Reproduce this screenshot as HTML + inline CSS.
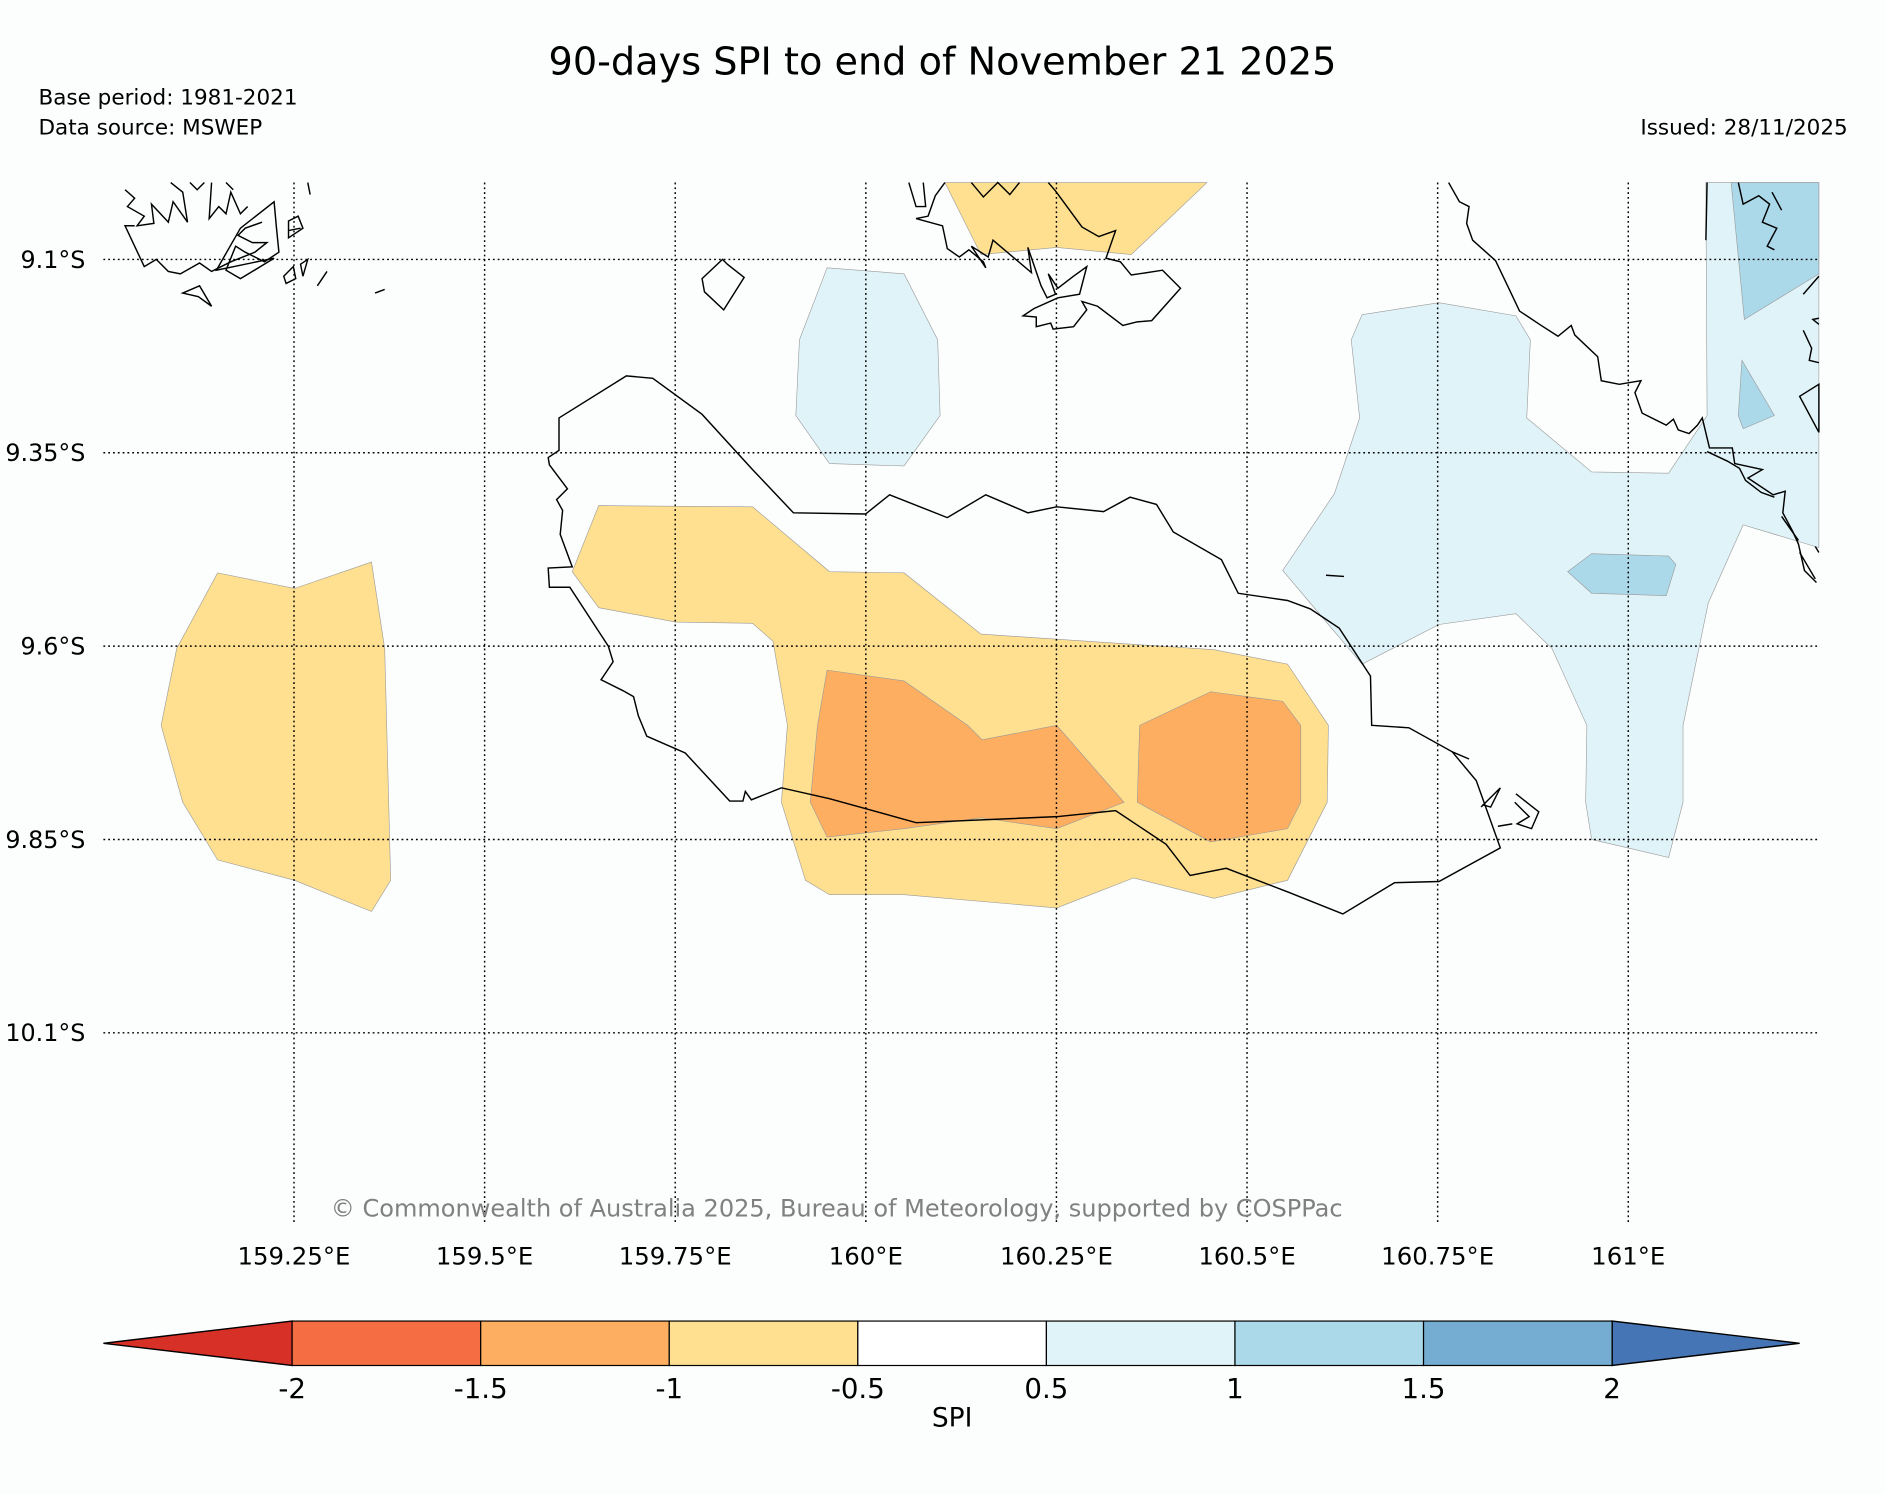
<!DOCTYPE html>
<html><head><meta charset="utf-8"><style>
html,body{margin:0;padding:0;background:#fcfdfd;}
svg{display:block;font-family:"DejaVu Sans","Liberation Sans",sans-serif;}
</style></head><body>
<svg id="chart" width="1885" height="1494" viewBox="0 0 1568 1244" preserveAspectRatio="none" xmlns="http://www.w3.org/2000/svg">
<rect width="1568" height="1244" fill="#fcfdfd"/>
<text x="784" y="62" font-size="31.8" text-anchor="middle">90-days SPI to end of November 21 2025</text>
<text x="32" y="87" font-size="17.9">Base period: 1981-2021</text>
<text x="32" y="112" font-size="17.9">Data source: MSWEP</text>
<text x="1537" y="112" font-size="17.9" text-anchor="end">Issued: 28/11/2025</text>
<g id="fills" stroke="#999" stroke-width="0.5">
<path fill="#fee090" d="M181,477 L245,490 L309,468 L320,540 L325,733 L309,759 L245,733 L181,716 L152,668 L134,604 L147,540 Z"/>
<path fill="#fee090" d="M498,421 L626,422 L690,476 L752,477 L816,528 L1010,541 L1071,553 L1105,604 L1104,668 L1071,733 L1010,748 L943,731 L879,756 L752,745 L690,745 L670,733 L650,668 L655,604 L643,534 L626,519 L562,518 L498,506 L476,476 Z"/>
<path fill="#fee090" d="M786,152 L1004,152 L941,212 L879,206 L816,212 Z"/>
<path fill="#fdae61" d="M688,558 L752,567 L805,604 L817,616 L879,604 L935,668 L879,690 L816,681 L752,690 L688,697 L674,668 L680,604 Z"/>
<path fill="#fdae61" d="M1007,576 L1067,584 L1082,604 L1082,668 L1071,690 L1007,701 L946,668 L948,604 Z"/>
<path fill="#e0f3f8" d="M688,223 L752,228 L780,283 L782,346 L752,388 L690,386 L662,346 L665,283 Z"/>
<path fill="#e0f3f8" d="M1133,262 L1197,252 L1261,263 L1273,283 L1270,348 L1324,393 L1388,394 L1420,346 L1419,152 L1513,152 L1513,456 L1450,437 L1421,502 L1400,604 L1400,668 L1388,714 L1324,699 L1319,668 L1320,604 L1291,540 L1261,511 L1197,520 L1133,553 L1105,520 L1067,475 L1110,411 L1131,348 L1124,283 Z"/>
<path fill="#abd9e9" d="M1440,152 L1513,152 L1513,228 L1451,266 Z"/>
<path fill="#abd9e9" d="M1449,300 L1476,346 L1450,357 L1446,346 Z"/>
<path fill="#abd9e9" d="M1324,461 L1388,463 L1394,470 L1386,496 L1324,494 L1304,476 Z"/>
</g>
<g id="coast" fill="none" stroke="#000" stroke-width="1.2">
<path d="M465,348 L521,313 L543,315 L584,345 L626,391 L660,427 L720,428 L740,412 L788,431 L820,412 L855,427 L879,422 L918,426 L940,414 L962,420 L976,443 L1016,466 L1030,494 L1071,500 L1090,507 L1114,523 L1140,563 L1141,604 L1172,606 L1208,626 L1228,650 L1248,706 L1197,734 L1160,735 L1117,761 L1072,743 L1020,723 L990,729 L970,703 L928,675 L879,680 L762,685 L690,665 L650,656 L625,666 L620,659 L618,667 L607,667 L570,627 L538,613 L531,596 L527,580 L518,575 L500,566 L510,551 L506,538 L474,489 L457,489 L456,473 L476,472 L466,445 L468,425 L463,416 L472,407 L457,387 L456,381 L465,375 Z"/>
<path d="M756,152 L762,172 L770,172 L768,152"/>
<path d="M786,152 L778,163 L772,180 L762,182 L784,188 L788,207 L798,214 L806,208 L818,218 L820,223 L808,205 L822,214 L826,200 L858,227 L855,206 L866,238 L871,248 L878,245 L872,228 L880,240 L893,230 L904,222 L898,245 L880,248 L860,257 L851,263 L862,264 L862,272 L874,269 L876,274 L893,272 L904,258 L900,251 L913,255 L934,271 L946,268 L958,267 L982,240 L967,225 L941,229 L932,218 L920,215 L928,192 L914,197 L900,189 L878,159 L872,152 M808,152 L818,164 L830,152 L840,162 L848,152"/>
<path d="M1205,152 L1214,168 L1222,172 L1220,186 L1225,200 L1244,217 L1255,240 L1264,259 L1282,271 L1296,280 L1307,271 L1310,279 L1329,297 L1332,317 L1347,320 L1365,317 L1360,327 L1366,344 L1386,354 L1392,349 L1396,358 L1405,361 L1412,354 L1416,348 L1422,373 L1441,373 L1443,386 L1466,391 L1454,398 L1475,412 L1485,409 L1483,427 L1491,442 L1496,453 L1501,475 L1511,485"/>
<path d="M1420,376 L1437,384 L1447,390 L1452,400 L1465,410 L1476,414"/>
<path d="M1482,430 L1496,450 M1497,460 L1510,482 M1510,455 L1513,460"/>
<path d="M1420,152 L1419,200"/>
<path d="M1513,230 L1500,245 M1513,265 L1508,266 L1513,270 M1500,275 L1507,290 L1505,300 L1513,302 M1497,330 L1513,320 L1513,360 Z M1446,152 L1450,170 L1463,163 L1472,170 L1466,185 L1478,190 L1470,205 L1476,208 M1474,160 L1482,175"/>
<path d="M1208,626 L1222,632 M1232,672 L1248,656 L1240,672 L1233,670 M1246,688 L1258,686 M1261,661 L1280,676 L1274,690 L1262,686 L1272,680 L1260,668"/>
<path d="M1103,479 L1118,480"/>
<path d="M584,232 L601,216 L605,220 L619,231 L602,258 L586,243 Z"/>
<path d="M104,158 L112,165 L106,172 L120,180 L114,188 L128,186 L126,170 L140,185 L144,168 L156,185 L152,160 L142,152 M158,152 L164,158 L170,152 M176,152 L174,182 L182,172 L188,178 L192,160 L200,178 L206,172 M218,185 L204,190 L198,196 L210,202 L222,202 L212,210 L192,218 L176,226 L166,219 L150,228 L140,226 L130,216 L120,222 L104,188 L112,188"/>
<path d="M180,225 L200,190 L228,168 L230,190 L232,210 L220,218 L204,210 L196,205 L188,225 L200,232 L210,226 L228,215 Z"/>
<path d="M152,244 L166,238 L176,255 L165,247 Z M240,184 L248,180 L252,190 L240,198 Z M236,230 L244,222 L246,232 L238,236 Z M250,220 L256,216 L252,230 Z M264,238 L272,226 M312,244 L320,241 M256,152 L258,162 M188,152 L194,158 M240,192 L250,190"/>
</g>
<g id="grid"></g>
<g id="axes"></g>
<text x="696" y="1013" font-size="20" fill="#808080" text-anchor="middle">© Commonwealth of Australia 2025, Bureau of Meteorology, supported by COSPPac</text>
<g id="cbar"></g>
<text x="792" y="1188" font-size="22" text-anchor="middle">SPI</text>
</svg>
<script>
const lonTicks=[159.25,159.5,159.75,160,160.25,160.5,160.75,161];
const lonLabels=["159.25°E","159.5°E","159.75°E","160°E","160.25°E","160.5°E","160.75°E","161°E"];
const latTicks=[9.1,9.35,9.6,9.85,10.1];
const latLabels=["9.1°S","9.35°S","9.6°S","9.85°S","10.1°S"];
const cbLevels=[-2,-1.5,-1,-0.5,0.5,1,1.5,2];
const cbLabels=["-2","-1.5","-1","-0.5","0.5","1","1.5","2"];
const cbColors=["#f46d43","#fdae61","#fee090","#ffffff","#e0f3f8","#abd9e9","#74add1"];
const NS="http://www.w3.org/2000/svg";
const xMin=86,xMax=1513,yTop=152,yBot=1020;
function xLon(l){return 86+(l-159.0)/2.25*1427;}
function yLat(l){return 216+(l-9.1)/0.25*161;}
function mk(t,a,p){const e=document.createElementNS(NS,t);for(const k in a)e.setAttribute(k,a[k]);p.appendChild(e);return e;}
const grid=document.getElementById('grid'),axes=document.getElementById('axes'),cb=document.getElementById('cbar');
lonTicks.forEach((v,i)=>{const x=xLon(v);
 const l=mk('line',{x1:x,x2:x,y1:yTop,y2:yBot,stroke:'#000','stroke-width':1.2,'stroke-dasharray':'1.5,2.5'},grid);
 
 
 const t=mk('text',{x:x,y:1053,'font-size':20.3,'text-anchor':'middle'},axes);t.textContent=lonLabels[i];
 
 
});
latTicks.forEach((v,i)=>{const y=yLat(v);
 const l=mk('line',{x1:xMin,x2:xMax,y1:y,y2:y,stroke:'#000','stroke-width':1.2,'stroke-dasharray':'1.5,2.5'},grid);
 
 
 const t=mk('text',{x:71,y:y+7,'font-size':19.8,'text-anchor':'end'},axes);t.textContent=latLabels[i];
 
 
});
const cbL=243,cbR=1341,cbT=1100,cbB=1137,cbM=(cbT+cbB)/2;
function cbPos(i){return cbL+i*(cbR-cbL)/(cbLevels.length-1);}
const lt=mk('polygon',{points:`86,${cbM} ${cbL},${cbT} ${cbL},${cbB}`,fill:'#d73027',stroke:'#000','stroke-width':1.2},cb);


const rt=mk('polygon',{points:`1497,${cbM} ${cbR},${cbT} ${cbR},${cbB}`,fill:'#4575b4',stroke:'#000','stroke-width':1.2},cb);


cbColors.forEach((c,i)=>{const x1=cbPos(i),x2=cbPos(i+1);
 const r=mk('rect',{x:x1,y:cbT,width:x2-x1,height:cbB-cbT,fill:c,stroke:'#000','stroke-width':1},cb);
 
 
});
cbLabels.forEach((s,i)=>{const t=mk('text',{x:cbPos(i),y:1164,'font-size':23,'text-anchor':'middle'},cb);t.textContent=s;
 
 
});
</script>
</body></html>
